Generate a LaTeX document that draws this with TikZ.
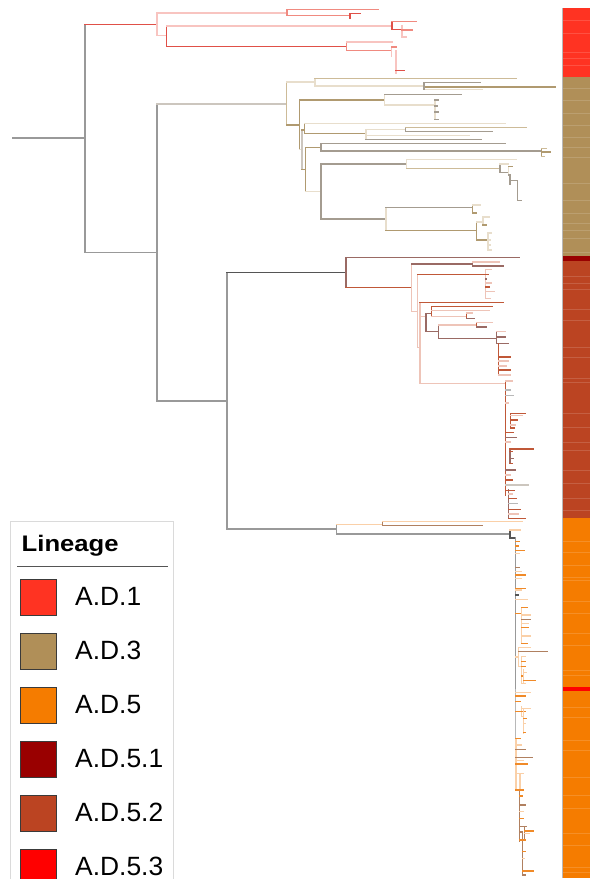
\documentclass[tikz,border=0pt]{standalone}
\usepackage{fontspec}
\setmainfont{Liberation Sans}
% branch colours
\definecolor{tgrey}{HTML}{999999}
\definecolor{tdark}{HTML}{555555}
\definecolor{tlgrey}{HTML}{B8B8B8}
\definecolor{tpale}{HTML}{CCC6BE}
\definecolor{ra}{HTML}{F08A80}
\definecolor{rb}{HTML}{F8C4C0}
\definecolor{rc}{HTML}{E05048}
\definecolor{ta}{HTML}{B09A70}
\definecolor{tb}{HTML}{E8DECC}
\definecolor{tc}{HTML}{A49C90}
\definecolor{td}{HTML}{CDBB98}
\definecolor{ma}{HTML}{C05838}
\definecolor{mb}{HTML}{EEC4B8}
\definecolor{mc}{HTML}{9A6A64}
\definecolor{oa}{HTML}{F08A28}
\definecolor{ob}{HTML}{FAD0A8}
\definecolor{oc}{HTML}{B08060}
% lineage colours
\definecolor{adone}{HTML}{FF3322}
\definecolor{adthree}{HTML}{B08F58}
\definecolor{adfive}{HTML}{F57C00}
\definecolor{adfiveone}{HTML}{990000}
\definecolor{adfivetwo}{HTML}{BB4422}
\definecolor{adfivethree}{HTML}{FF0000}
\definecolor{boxline}{HTML}{DADADA}
\definecolor{swline}{HTML}{3A3A3A}
% \hl{colour}{y}{x1}{x2}  and  \vl{colour}{x}{y1}{y2}
\newcommand\hl[4]{\draw[#1] (#3,#2) -- (#4,#2);}
\newcommand\vl[4]{\draw[#1] (#2,#3) -- (#2,#4);}
\begin{document}
\begin{tikzpicture}[x=1pt,y=-1pt]
\useasboundingbox (0,0) rectangle (590,879);
\begin{scope}[line width=1.05pt, line cap=rect]
% ---- root and backbone
\hl{tgrey}{138}{13}{85}
\vl{tgrey}{85}{24.3}{252.7}
\hl{rc}{24.3}{85}{157}
\hl{tgrey}{252.7}{85}{157}
\vl{tgrey}{157}{104}{401}
\hl{tpale}{104}{157}{286.7}
\hl{tgrey}{401}{157}{227}
\vl{tgrey}{227}{272.7}{529}
\hl{tdark}{272.7}{227}{346}
\hl{tgrey}{529}{227}{336.7}
% ---- A.D.1
\vl{rb}{157}{13}{35.7}
\hl{rb}{13}{157}{287}
\vl{ra}{287}{9.3}{15.3}
\hl{ra}{9.3}{287}{378}
\hl{ra}{15.3}{287}{350}
\vl{rc}{350}{13.7}{18}
\hl{rc}{13.7}{350}{360}
\hl{rb}{35.7}{157}{166.7}
\vl{rc}{166.7}{26}{46.3}
\hl{rb}{26}{166.7}{392}
\vl{rc}{392}{21.7}{29.3}
\hl{ra}{21.7}{392}{416.5}
\hl{rc}{29.3}{392}{402}
\vl{rb}{402}{26}{37}
\hl{ra}{30}{402}{412}
\hl{rb}{37}{402}{406}
\hl{rc}{46.3}{166.7}{346.5}
\vl{ra}{346.5}{42}{50.7}
\hl{rb}{42}{346.5}{392}
\hl{ra}{50.7}{346.5}{391.5}
\vl{rb}{391.5}{47}{56}
\hl{ra}{47}{391.5}{396}
\vl{rb}{396}{50.7}{73}
\hl{rc}{70.7}{396}{404}
% ---- A.D.3
\vl{td}{286.7}{82}{125}
\hl{tb}{82}{286.7}{315}
\vl{tb}{315}{78.3}{86}
\hl{td}{78.3}{315}{516}
\hl{tb}{86}{315}{424}
\vl{tc}{424}{82.3}{89.3}
\hl{tc}{82.3}{424}{480}
\hl{ta}{87}{426}{555}
\hl{tb}{89.3}{426}{482}
\hl{ta}{125}{286.7}{299.5}
\vl{ta}{299.5}{100}{149.3}
\hl{ta}{100}{299.5}{384.3}
\vl{tb}{384.3}{94.7}{105}
\hl{tc}{94.7}{384.3}{461}
\hl{tb}{105}{384.3}{435}
\vl{tb}{435}{100}{119.3}
\foreach \y/\x in {100/438.5,106/437.5,112/438.5,119.3/438.5} {\hl{tc}{\y}{435}{\x}}
\hl{tb}{149.3}{299.5}{302}
\vl{tpale}{302}{130}{169.3}
\hl{ta}{130}{302}{304.3}
\vl{ta}{304.3}{123.3}{133.3}
\hl{tb}{123.3}{304.3}{505}
\hl{ta}{133.3}{304.3}{366}
\vl{tb}{366}{129.3}{139.3}
\hl{tb}{129.3}{366}{405.7}
\vl{tc}{405.7}{127.7}{131.7}
\hl{td}{127.7}{405.7}{526.7}
\hl{tc}{131.7}{405.7}{492.3}
\hl{tb}{135.3}{366}{469.3}
\hl{tc}{139.3}{366}{481.7}
\hl{ta}{169.3}{302}{305.5}
\vl{ta}{305.5}{147.3}{191.7}
\hl{ta}{147.3}{305.5}{321}
\vl{tc}{321}{143.3}{151}
\hl{tc}{143.3}{321}{505.7}
\hl{tc}{151}{321}{541.7}
\vl{ta}{541.7}{148.3}{156.7}
\hl{td}{148.3}{541.7}{546}
\hl{ta}{152}{541.7}{550}
\hl{td}{156.7}{541.7}{544}
\hl{tb}{191.7}{305.5}{321}
\vl{tc}{321}{164}{219}
\hl{tc}{164}{321}{406.7}
\vl{tb}{406.7}{159.3}{168.3}
\hl{tb}{159.3}{406.7}{516}
\hl{td}{168.3}{406.7}{500}
\vl{tc}{500}{164}{172.3}
\hl{tb}{164}{500}{508.3}
\hl{tc}{172.3}{500}{508.3}
\vl{tb}{508.3}{166.7}{175}
\hl{ta}{166.7}{508.3}{512}
\hl{tc}{175}{508.3}{510}
\vl{tc}{510}{175}{184}
\hl{tc}{180.3}{510}{517.3}
\vl{tc}{517.3}{180.3}{200.7}
\hl{tc}{200.7}{517.3}{521.7}
\hl{tc}{219}{321}{386}
\vl{tb}{386}{207.7}{230.7}
\hl{tc}{207.7}{386}{472.7}
\vl{ta}{472.7}{205}{213}
\hl{tb}{205}{472.7}{480}
\hl{ta}{213}{472.7}{476}
\hl{ta}{230.7}{386}{476.7}
\vl{ta}{476.7}{222}{240}
\hl{tb}{222}{476.7}{483}
\vl{tb}{483}{217}{225}
\hl{tb}{217}{483}{489}
\hl{ta}{225}{483}{486}
\hl{ta}{240}{476.7}{488}
\vl{tb}{488}{233}{250}
\foreach \y/\x in {233/491,240/490,245/490,250/491} {\hl{tb}{\y}{488}{\x}}
% ---- A.D.5.1 / A.D.5.2
\vl{mc}{346}{257.3}{287.3}
\hl{mc}{257.3}{346}{519}
\hl{ma}{287.3}{346}{411.7}
\vl{mb}{411.7}{264}{311.3}
\hl{mc}{264}{411.7}{472.7}
\vl{mc}{472.7}{262}{266}
\hl{mb}{262}{472.7}{499}
\hl{mc}{266}{472.7}{503.7}
\hl{mb}{311.3}{411.7}{417.3}
\vl{mb}{417.3}{274.3}{347.7}
\hl{ma}{274.3}{417.3}{485.7}
\vl{mb}{485.7}{269.7}{298.3}
\foreach \y/\x/\c in {269.7/491/mb,274.3/488/ma,279/486/mc,283/491/mb,287/489/ma,291.7/494/mb,298.3/490/mb} {\hl{\c}{\y}{485.7}{\x}}
\hl{mb}{347.7}{417.3}{420}
\vl{mb}{420}{302.3}{383.7}
\hl{ma}{302.3}{420}{503.3}
\hl{mb}{316.7}{420}{426}
\vl{mc}{426}{313.3}{331.7}
\hl{mc}{313.3}{426}{431.7}
\vl{ma}{431.7}{306.7}{316.7}
\hl{ma}{306.7}{431.7}{492.7}
\hl{mb}{310.7}{431.7}{489.3}
\hl{mb}{316.7}{431.7}{466.7}
\vl{ma}{466.7}{313}{318.7}
\hl{mb}{313}{466.7}{472}
\hl{mc}{318.7}{466.7}{474}
\hl{mc}{331.7}{426}{438.7}
\vl{mc}{438.7}{325}{338.7}
\hl{mb}{325}{438.7}{476.7}
\vl{ma}{476.7}{322.7}{327}
\hl{mb}{322.7}{476.7}{492.7}
\hl{mc}{327}{476.7}{486.7}
\hl{mc}{338.7}{438.7}{496.7}
\vl{mc}{496.7}{331.3}{343.3}
\hl{mb}{331.3}{496.7}{505}
\hl{mc}{337}{496.7}{505}
\hl{mc}{343.3}{496.7}{508}
\vl{ma}{498.3}{343.3}{375}
\foreach \y/\x/\c in {357/510/ma,361/508/mb,366/506/mb,370/510/ma,375/510/mb} {\hl{\c}{\y}{498.3}{\x}}
\hl{mb}{383.7}{420}{505.7}
\vl{ma}{505.7}{381}{495}
\vl{mc}{508.3}{490}{518.3}
\vl{ma}{510.7}{413.3}{428}
\vl{mc}{510}{449}{463.3}
\foreach \y/\x/\c in {381/512/mb,390/510/tlgrey,395.7/513/tlgrey,403/508/mb,432.7/513/ma,437.7/516/mc,442/510/mb,470/515/mc,475/510/mb,480/512/ma,485/528.3/tpale,490.7/514/ma} {\hl{\c}{\y}{505.7}{\x}}
\foreach \y/\x/\c in {413.3/525/ma,415.7/522/mb,420/517/ma,425/515/mb,428/514/ma} {\hl{\c}{\y}{510.7}{\x}}
\foreach \y/\x/\c in {449/533.7/ma,451.7/512/ma,458.3/513/mc,463.3/512/ma} {\hl{\c}{\y}{510}{\x}}
\foreach \y/\x/\c in {494/512/mb,498.3/516/ma,503.3/517/tlgrey,509.3/520/ma,514/518/mb,518.3/525.7/ma} {\hl{\c}{\y}{508.3}{\x}}
% ---- A.D.5
\vl{tgrey}{336.7}{524.3}{534}
\hl{ob}{524.3}{336.7}{382.3}
\vl{oc}{382.3}{521.7}{525.7}
\hl{ob}{521.7}{382.3}{522.3}
\hl{oc}{525.7}{382.3}{482.3}
\hl{tgrey}{534}{336.7}{510}
\vl{tdark}{510}{530}{538}
\hl{ob}{530}{510}{520}
\hl{tdark}{538}{510}{515.7}
\vl{tgrey}{515.7}{538}{690}
\vl{tlgrey}{515.7}{690}{740}
\vl{ob}{516}{740}{790}
\hl{ob}{790}{516}{519.7}
\vl{oc}{519.7}{790}{841}
\hl{oc}{832}{519.7}{522.3}
\vl{oc}{522.3}{832}{875}
\foreach \y/\x/\c in {541.7/519/oa,546/518.3/oa,550.7/524/oa,553.3/519/ob,567.3/519.3/oc,571.7/521.7/ob,575/525/oa,578.3/521.7/ob,588.3/525/oa,590/521.7/ob,595/518.3/tdark,599.3/527.3/ob,613.3/521.7/oa,692.7/530/ob,696/525/oa,701.7/520/oa,711.7/521.7/oa,738.3/520/oa,745/521.7/ob,749.3/525/oc,757.3/532.3/oc,760.7/523.3/ob,764/527.3/oa,773.3/523.3/ob} {\hl{\c}{\y}{515.7}{\x}}
% sub-clade near 610-645
\vl{ob}{521.7}{607.7}{643.3}
\foreach \y/\x/\c in {607.7/527.3/oa,615/530/ob,619.3/530/oc,623.3/528.3/ob,627.3/528.3/oa,636/530/ob,643.3/527.3/oa} {\hl{\c}{\y}{521.7}{\x}}
% sub-clade near 647-684
\hl{ob}{657}{515.7}{518.3}
\vl{ob}{518.3}{647.3}{666.7}
\hl{ob}{647.7}{518.3}{530}
\hl{oc}{651.7}{518.3}{547.3}
\hl{ob}{666.7}{518.3}{521.7}
\vl{ob}{521.7}{656.7}{683.3}
\foreach \y/\x/\c in {656.7/525/ob,661.7/525/oa,666.7/525/oa,683.3/525/ob} {\hl{\c}{\y}{521.7}{\x}}
\hl{oa}{676}{521.7}{523.3}
\vl{ob}{523.3}{670}{683.3}
\hl{ob}{672.7}{523.3}{526.7}
\hl{oa}{680.7}{523.3}{535}
% sub-clade near 707-733
\vl{ob}{521.7}{706.7}{716.7}
\hl{ob}{708.3}{521.7}{530}
\hl{oa}{711.7}{521.7}{525}
\hl{ob}{716.7}{521.7}{523.3}
\vl{ob}{523.3}{710}{733.3}
\foreach \y/\x/\c in {718.3/526.7/oa,723.3/525/ob,732.7/525/oa} {\hl{\c}{\y}{523.3}{\x}}
% lower part
\vl{ob}{520}{775}{790}
\hl{oa}{790}{516}{523.3}
\foreach \y/\x/\c in {796/522.7/oa,805/525/oc,811.7/523.3/ob,818.3/523.3/oa} {\hl{\c}{\y}{519.7}{\x}}
\hl{oc}{826.7}{519.7}{526.7}
\vl{oc}{524.3}{826.7}{840}
\hl{oa}{831}{524.3}{533.3}
\hl{ob}{833.3}{524.3}{529.3}
\hl{oa}{840}{519.7}{525}
\foreach \y/\x/\c in {851.7/525/oa,858.3/524/ob,871/533.3/oa,875/525/oc} {\hl{\c}{\y}{522.3}{\x}}
\end{scope}
% ---- lineage colour bar
\fill[adone] (563,8) rectangle (590,76.5);
\fill[adthree] (563,76.5) rectangle (590,255.5);
\fill[adfiveone] (563,255.5) rectangle (590,260.5);
\fill[adfivetwo] (563,260.5) rectangle (590,518);
\fill[adfive] (563,518) rectangle (590,878);
\fill[adfivethree] (563,686.5) rectangle (590,691);
\foreach \y in {20,33,52,58,65,88,100,113,125,137,147,157,183,200,213,223,230,238,252,276,283,289,309,320,347,357,378,382,413,427,442,450,470,483,498,510,541,552,565,577,580,601,613,633,645,670,675,707,717,740,750,777,795,808,833,845,867,872}
  {\draw[white, opacity=0.15, line width=0.8pt] (563,\y) -- (590,\y);}
\draw[tlgrey, line width=0.8pt] (562.6,8) -- (562.6,878);
% ---- legend
\draw[boxline, fill=white, line width=0.8pt] (10.8,521) rectangle (173,895);
\node[anchor=base west, inner sep=0pt, font=\bfseries\fontsize{22.5}{26}\selectfont] at (21.5,551) {\scalebox{1.14}[1]{Lineage}};
\draw[tdark, line width=1.2pt] (17,566.7) -- (168,566.7);
\foreach \c/\t [count=\i from 0] in {adone/A.D.1,adthree/A.D.3,adfive/A.D.5,adfiveone/A.D.5.1,adfivetwo/A.D.5.2,adfivethree/A.D.5.3}
{
  \draw[fill=\c, draw=swline, line width=0.9pt] (20.5,579.5+54*\i) rectangle ++(36,36);
  \node[anchor=base west, inner sep=0pt, font=\fontsize{26.4}{30}\selectfont] at (75,605.7+54*\i) {\t};
}
\end{tikzpicture}
\end{document}
